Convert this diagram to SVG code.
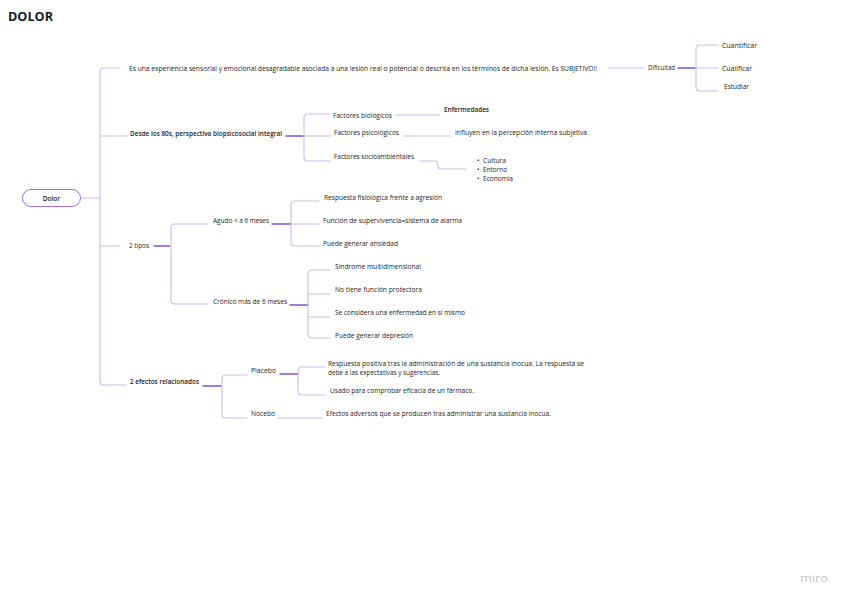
<svg xmlns="http://www.w3.org/2000/svg" width="848" height="600" viewBox="0 0 848 600">
<style>
.t{font-family:"Open Sans","Liberation Sans",sans-serif;font-size:6.5px;fill:#222;dominant-baseline:central;}
.b{font-weight:600;}
.l{fill:none;stroke:#cdb8f3;stroke-width:1.1;stroke-linecap:round;}
.d{fill:none;stroke:#7c52d6;stroke-width:1.4;stroke-linecap:round;}
</style>
<rect width="848" height="600" fill="#ffffff"/>
<text x="8" y="16" font-family="'Open Sans','Liberation Sans',sans-serif" font-size="12.5" font-weight="700" fill="#1a1a1a" dominant-baseline="central" textLength="45" lengthAdjust="spacingAndGlyphs">DOLOR</text>

<g id="connectors">
  <path class="l" d="M81,198 H100"/>
  <path class="l" d="M120,68 H104 Q100,68 100,72 V381 Q100,385 104,385 H126"/>
  <path class="l" d="M100,136 H127"/>
  <path class="l" d="M100,246 H120"/>
  <!-- branch 1 -->
  <path class="l" d="M609,68 H643"/>
  <path class="d" d="M678,68 H696"/>
  <path class="l" d="M718,45 H700 Q696,45 696,49 V87 Q696,91 700,91 H718"/>
  <path class="l" d="M696,68 H718"/>
  <!-- branch 2 -->
  <path class="d" d="M286,136 H304"/>
  <path class="l" d="M330,114 H308 Q304,114 304,118 V157 Q304,161 308,161 H330"/>
  <path class="l" d="M304,136 H330"/>
  <path class="l" d="M396,115 H440"/>
  <path class="l" d="M403,136 H450"/>
  <path class="l" d="M420,161 H434 Q438,161 438,165 Q438,169 442,169 H466"/>
  <!-- branch 3 -->
  <path class="d" d="M154,246 H170"/>
  <path class="l" d="M208,224 H175 Q171,224 171,228 V300 Q171,304 175,304 H208"/>
  <path class="d" d="M272,224 H291"/>
  <path class="l" d="M319,201 H295 Q291,201 291,205 V242 Q291,246 295,246 H319"/>
  <path class="l" d="M291,224 H319"/>
  <path class="d" d="M290,305 H308"/>
  <path class="l" d="M330,270 H312 Q308,270 308,274 V334 Q308,338 312,338 H330"/>
  <path class="l" d="M308,294 H330"/>
  <path class="l" d="M308,317 H330"/>
  <!-- branch 4 -->
  <path class="d" d="M203,386 H221"/>
  <path class="l" d="M247,375 H226 Q222,375 222,379 V414 Q222,418 226,418 H247"/>
  <path class="d" d="M280,374 H298"/>
  <path class="l" d="M325,367 H302 Q298,367 298,371 V391 Q298,395 302,395 H325"/>
  <path class="l" d="M278,418 H322"/>
</g>

<g id="root">
  <rect x="22.5" y="189.5" width="58" height="17" rx="8.5" fill="#ffffff" stroke="#9a72e6" stroke-width="1"/>
  <text class="t b" x="51.5" y="198" text-anchor="middle">Dolor</text>
</g>

<g id="n-def"><text class="t" x="129" y="68" textLength="468" lengthAdjust="spacingAndGlyphs">Es una experiencia sensorial y emocional desagradable asociada a una lesión real o potencial o descrita en los términos de dicha lesión. Es SUBJETIVO!!</text></g>
<g id="n-dificultad"><text class="t" x="648" y="67" textLength="27" lengthAdjust="spacingAndGlyphs">Dificultad</text></g>
<g id="n-cuantificar"><text class="t" x="722" y="45" textLength="35" lengthAdjust="spacingAndGlyphs">Cuantificar</text></g>
<g id="n-cualificar"><text class="t" x="722" y="68" textLength="30" lengthAdjust="spacingAndGlyphs">Cualificar</text></g>
<g id="n-estudiar"><text class="t" x="724" y="86" textLength="25" lengthAdjust="spacingAndGlyphs">Estudiar</text></g>

<g id="n-biopsico"><text class="t b" x="130" y="133" textLength="152" lengthAdjust="spacingAndGlyphs">Desde los 80s, perspectiva biopsicosocial integral</text></g>
<g id="n-biologicos"><text class="t" x="333" y="115" textLength="59" lengthAdjust="spacingAndGlyphs">Factores biológicos</text></g>
<g id="n-enfermedades"><text class="t b" x="444" y="109" textLength="45" lengthAdjust="spacingAndGlyphs">Enfermedades</text></g>
<g id="n-psicologicos"><text class="t" x="334" y="132" textLength="65" lengthAdjust="spacingAndGlyphs">Factores psicológicos</text></g>
<g id="n-influyen"><text class="t" x="455" y="132" textLength="132" lengthAdjust="spacingAndGlyphs">Influyen en la percepción interna subjetiva</text></g>
<g id="n-socio"><text class="t" x="334" y="156" textLength="80" lengthAdjust="spacingAndGlyphs">Factores socioambientales</text></g>
<g id="n-lista">
  <text class="t" x="477" y="160">•</text><text class="t" x="483" y="160" textLength="23" lengthAdjust="spacingAndGlyphs">Cultura</text>
  <text class="t" x="477" y="169">•</text><text class="t" x="483" y="169" textLength="24" lengthAdjust="spacingAndGlyphs">Entorno</text>
  <text class="t" x="477" y="178">•</text><text class="t" x="483" y="178" textLength="30" lengthAdjust="spacingAndGlyphs">Economía</text>
</g>

<g id="n-tipos"><text class="t" x="129" y="245" textLength="20" lengthAdjust="spacingAndGlyphs">2 tipos</text></g>
<g id="n-agudo"><text class="t" x="213" y="220" textLength="56" lengthAdjust="spacingAndGlyphs">Agudo &lt; a 6 meses</text></g>
<g id="n-respuesta"><text class="t" x="324" y="197" textLength="118" lengthAdjust="spacingAndGlyphs">Respuesta fisiológica frente a agresión</text></g>
<g id="n-funcion"><text class="t" x="323" y="220" textLength="139" lengthAdjust="spacingAndGlyphs">Función de supervivencia=sistema de alarma</text></g>
<g id="n-ansiedad"><text class="t" x="323" y="243" textLength="75" lengthAdjust="spacingAndGlyphs">Puede generar ansiedad</text></g>
<g id="n-cronico"><text class="t" x="213" y="301" textLength="74" lengthAdjust="spacingAndGlyphs">Crónico más de 6 meses</text></g>
<g id="n-sindrome"><text class="t" x="335" y="266" textLength="86" lengthAdjust="spacingAndGlyphs">Síndrome multidimensional</text></g>
<g id="n-noprotect"><text class="t" x="335" y="289" textLength="87" lengthAdjust="spacingAndGlyphs">No tiene función protectora</text></g>
<g id="n-enfermedad"><text class="t" x="335" y="312" textLength="130" lengthAdjust="spacingAndGlyphs">Se considera una enfermedad en sí mismo</text></g>
<g id="n-depresion"><text class="t" x="335" y="335" textLength="78" lengthAdjust="spacingAndGlyphs">Puede generar depresión</text></g>

<g id="n-efectos"><text class="t b" x="130" y="381" textLength="69" lengthAdjust="spacingAndGlyphs">2 efectos relacionados</text></g>
<g id="n-placebo"><text class="t" x="251" y="370" textLength="25" lengthAdjust="spacingAndGlyphs">Placebo</text></g>
<g id="n-placebo-def">
  <text class="t" x="328" y="363" textLength="256" lengthAdjust="spacingAndGlyphs">Respuesta positiva tras la administración de una sustancia inocua. La respuesta se</text>
  <text class="t" x="328" y="372" textLength="112" lengthAdjust="spacingAndGlyphs">debe a las expectativas y sugerencias.</text>
</g>
<g id="n-usado"><text class="t" x="330" y="390" textLength="144" lengthAdjust="spacingAndGlyphs">Usado para comprobar eficacia de un fármaco.</text></g>
<g id="n-nocebo"><text class="t" x="251" y="413" textLength="24" lengthAdjust="spacingAndGlyphs">Nocebo</text></g>
<g id="n-nocebo-def"><text class="t" x="326" y="413" textLength="225" lengthAdjust="spacingAndGlyphs">Efectos adversos que se producen tras administrar una sustancia inocua.</text></g>

<text x="800" y="577" font-family="'Open Sans','Liberation Sans',sans-serif" font-size="11" fill="#c4c4c4" dominant-baseline="central" textLength="28" lengthAdjust="spacingAndGlyphs">miro</text>
</svg>
